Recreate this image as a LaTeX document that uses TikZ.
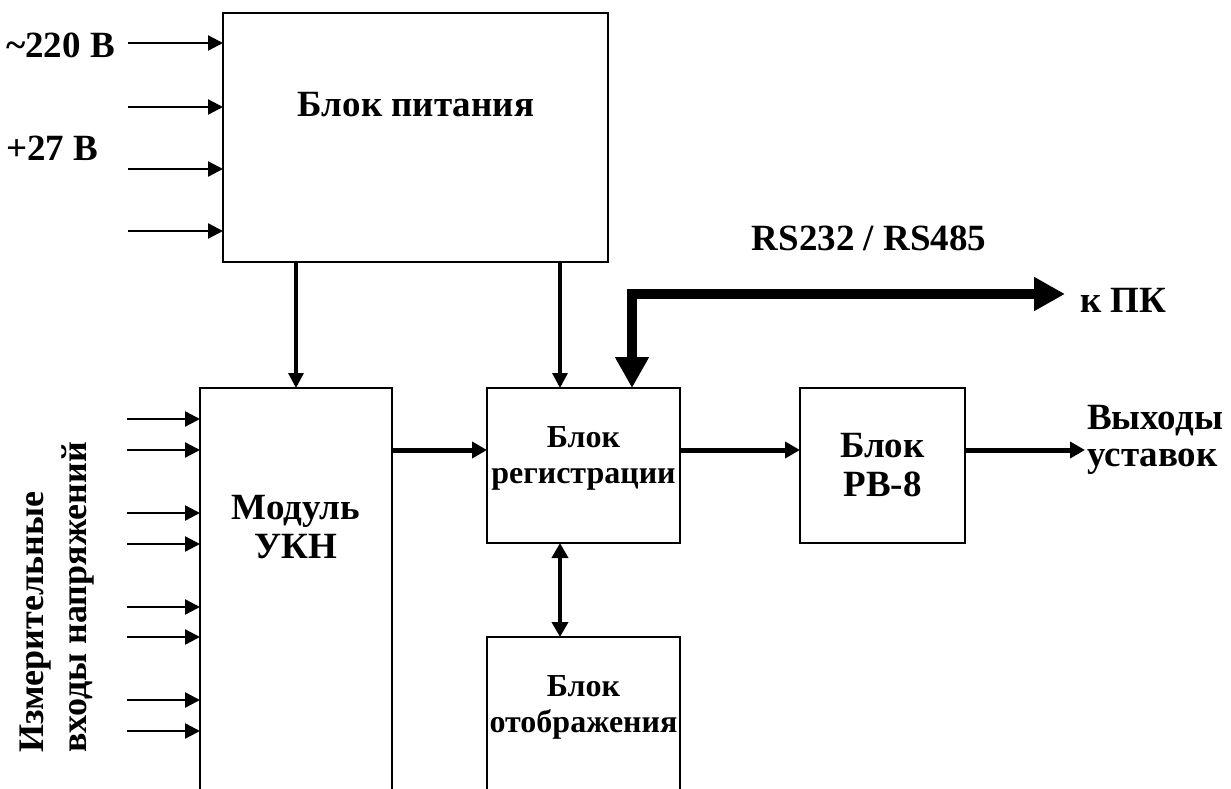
\documentclass[tikz,border=0pt]{standalone}
\usepackage{fontspec}
\setmainfont{Liberation Serif}
\usetikzlibrary{arrows.meta}
\begin{document}
\begin{tikzpicture}[x=1pt,y=-1pt,
  frame/.style={line width=2pt},
  hidden/.style={inner sep=0pt,outer sep=0pt,draw=none},
  big/.style={font=\bfseries\fontsize{37}{39}\selectfont,align=center,inner sep=0pt},
  mid/.style={font=\bfseries\fontsize{37}{37}\selectfont,align=left,inner sep=0pt},
  vert/.style={font=\bfseries\fontsize{36}{39}\selectfont,inner sep=0pt,rotate=90,anchor=base west},
  small/.style={font=\bfseries\fontsize{32}{36}\selectfont,align=center,inner sep=0pt},
  thin/.style={line width=2.4pt,-{Triangle[length=15pt,width=15pt]}},
  med/.style={line width=3.2pt,-{Triangle[length=15pt,width=15pt]}},
  thick/.style={line width=5pt,-{Triangle[length=15pt,width=16pt]}},
  both/.style={line width=4pt,{Triangle[length=15pt,width=16pt]}-{Triangle[length=15pt,width=16pt]}},
  heavy/.style={line width=10pt,{Triangle[length=31pt,width=32pt]}-{Triangle[length=31pt,width=32pt]}}]
\useasboundingbox (0,0) rectangle (1231,789);
% boxes
\node[hidden,draw,frame,minimum width=385pt,minimum height=249pt] (pwr) at (415.5,137.5) {};
\node[hidden,minimum width=192pt,minimum height=410pt] (ukn) at (296,593) {};
\draw[frame] (ukn.south west) -- (ukn.north west) -- (ukn.north east) -- (ukn.south east);
\node[hidden,draw,frame,minimum width=193pt,minimum height=155pt] (reg) at (583.5,465.5) {};
\node[hidden,draw,frame,minimum width=165pt,minimum height=155pt] (rb) at (882.5,465.5) {};
\node[hidden,minimum width=193pt,minimum height=160pt] (disp) at (583.5,717) {};
\draw[frame] (disp.south west) -- (disp.north west) -- (disp.north east) -- (disp.south east);
% texts
\node[big] (tpwr) at (416,105) {Блок питания};
\node[big] (tukn) at (296,527) {Модуль\\УКН};
\node[small] (treg) at (583.5,458) {Блок\\регистрации};
\node[big] (trb) at (882.5,465) {Блок\\РВ-8};
\node[small] (tdisp) at (583.5,707) {Блок\\отображения};
\node[big,anchor=west] (t220) at (6,45) {\char"7E 220 В};
\node[big,anchor=west] (t27) at (6,148) {+27 В};
\node[big] (trs) at (869,238) {RS232 / RS485};
\node[big,anchor=west] (tpc) at (1080,300) {к ПК};
\node[mid,anchor=west] (tout) at (1087,440) {Выходы\\уставок};
\node[vert] (tmeas1) at (43,753) {Измерительные};
\node[vert] (tmeas2) at (86,753) {входы напряжений};
% power inputs
\foreach \y/\n in {43/1,107/2,169/3,231/4}{
  \coordinate (pin\n) at (128,\y);
  \draw[thin] (pin\n) -- (pin\n -| pwr.west);
}
% ukn inputs
\foreach \y/\n in {419/1,450/2,513/3,544/4,607/5,637/6,700/7,731/8}{
  \coordinate (uin\n) at (127,\y);
  \draw[thin] (uin\n) -- (uin\n -| ukn.west);
}
% power to ukn and reg
\coordinate (p1) at (296,0);
\coordinate (p2) at (560,0);
\draw[med] (p1 |- pwr.south) -- (p1 |- ukn.north);
\draw[med] (p2 |- pwr.south) -- (p2 |- reg.north);
% ukn -> reg -> rb -> out
\coordinate (hy) at (0,450);
\draw[thick] (hy -| ukn.east) -- (hy -| reg.west);
\draw[thick] (hy -| reg.east) -- (hy -| rb.west);
\coordinate (outend) at (1085,450);
\draw[thick] (hy -| rb.east) -- (outend);
% reg <-> disp
\draw[both] (p2 |- reg.south) -- (p2 |- disp.north);
% RS link
\coordinate (pc) at (1065,294);
\coordinate (rsx) at (632,0);
\draw[heavy] (pc) -- (rsx |- pc) -- (rsx |- reg.north);
\end{tikzpicture}
\end{document}
